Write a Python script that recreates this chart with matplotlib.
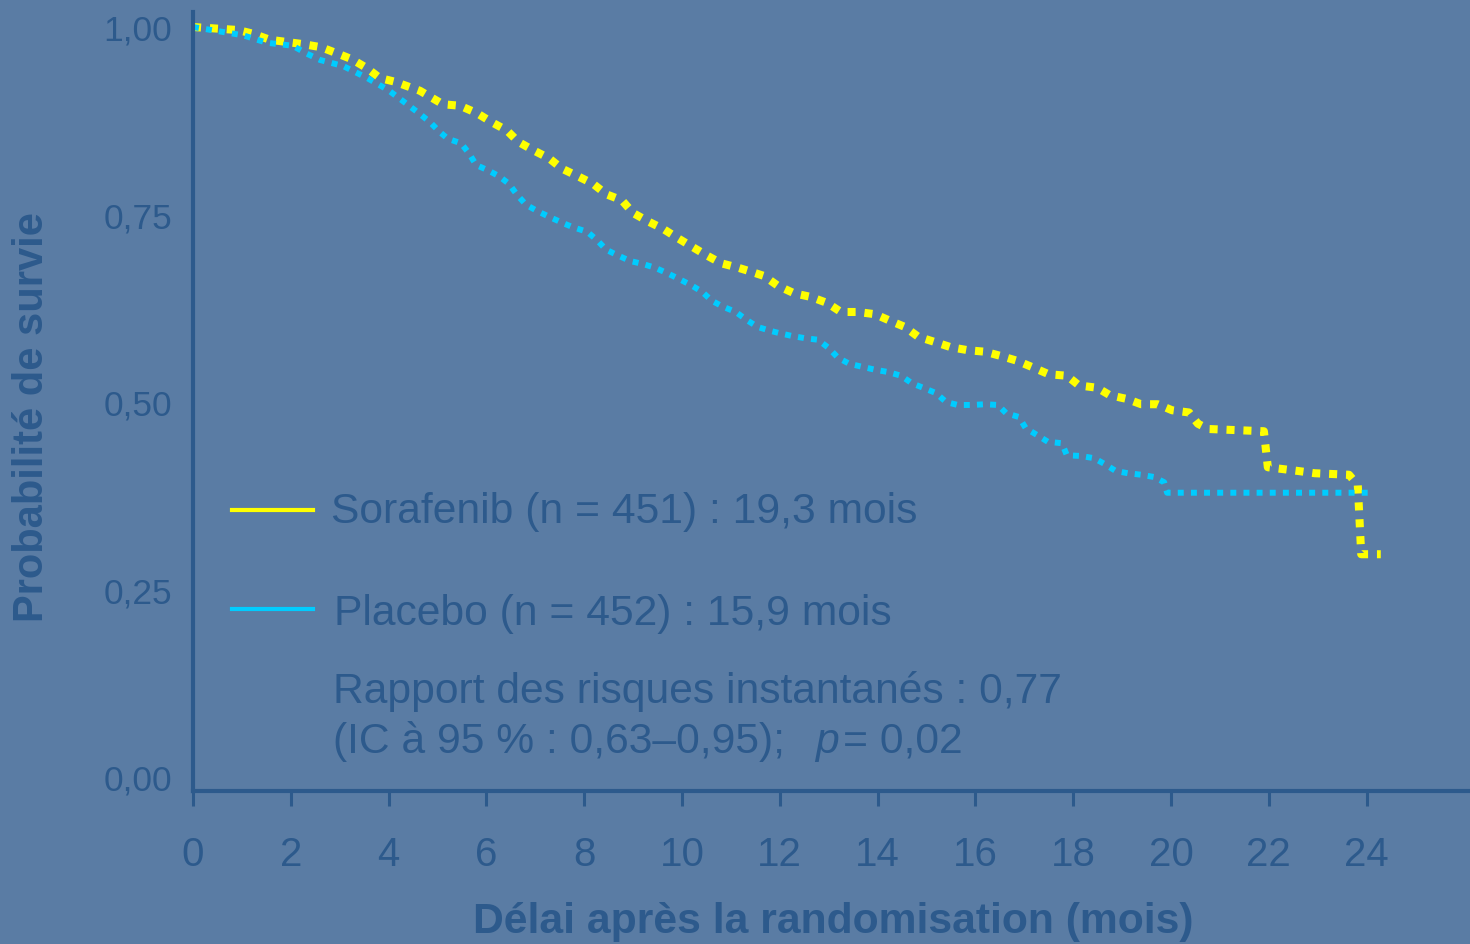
import matplotlib.pyplot as plt

plt.rcParams['font.family'] = ['Liberation Sans', 'DejaVu Sans']

# Kaplan-Meier curves (months, survival probability)
soraf_t = [0, 0.92, 1.23, 1.57, 2.27, 2.62, 2.94, 3.25, 3.56, 3.82, 4.13, 4.64,
           5.11, 5.46, 5.81, 6.11, 6.42, 6.65, 6.95, 7.28, 7.55, 7.87, 8.18, 8.45,
           8.77, 9.0, 9.3, 9.61, 9.9, 10.18, 10.49, 10.8, 11.15, 11.35, 11.68, 11.96,
           12.29, 12.64, 12.97, 13.25, 13.6, 13.95, 14.23, 14.56, 14.83, 15.17, 15.5,
           15.85, 16.2, 16.54, 16.85, 17.18, 17.5, 17.87, 18.12, 18.49, 18.75, 19.1,
           19.39, 19.73, 20.02, 20.37, 20.55, 20.76, 21.9, 21.98, 22.23, 22.6, 22.94,
           23.29, 23.64, 23.82, 23.89, 24.29]
soraf_s = [1.0, 0.996, 0.991, 0.983, 0.977, 0.973, 0.965, 0.957, 0.945, 0.932, 0.927,
           0.915, 0.897, 0.895, 0.885, 0.873, 0.862, 0.847, 0.836, 0.825, 0.811, 0.801,
           0.791, 0.777, 0.769, 0.752, 0.741, 0.731, 0.719, 0.708, 0.696, 0.685, 0.679,
           0.675, 0.668, 0.655, 0.645, 0.640, 0.632, 0.620, 0.620, 0.617, 0.609, 0.600,
           0.587, 0.580, 0.573, 0.569, 0.567, 0.561, 0.555, 0.546, 0.537, 0.535, 0.522,
           0.519, 0.509, 0.504, 0.497, 0.497, 0.489, 0.486, 0.471, 0.464, 0.461, 0.413,
           0.411, 0.408, 0.405, 0.404, 0.403, 0.389, 0.297, 0.297]

placebo_t = [0, 1.02, 1.51, 2.04, 2.31, 2.6, 3.07, 3.56, 3.99, 4.40, 4.64, 4.85, 5.03,
             5.21, 5.48, 5.64, 5.79, 6.03, 6.26, 6.46, 6.63, 6.81, 7.03, 7.28, 7.55,
             7.77, 8.06, 8.26, 8.45, 8.67, 8.94, 9.2, 9.45, 9.69, 9.94, 10.18, 10.41,
             10.61, 10.84, 11.1, 11.33, 11.55, 11.8, 11.98, 12.25, 12.52, 12.78, 13.0,
             13.19, 13.42, 13.68, 13.95, 14.21, 14.48, 14.7, 14.93, 15.19, 15.4, 15.64,
             15.93, 16.2, 16.46, 16.63, 16.89, 17.03, 17.26, 17.48, 17.77, 17.87, 18.16,
             18.43, 18.65, 18.87, 19.12, 19.39, 19.65, 19.86, 19.92, 24.07]
placebo_s = [1.0, 0.989, 0.979, 0.975, 0.965, 0.956, 0.948, 0.932, 0.916, 0.896, 0.884,
             0.873, 0.861, 0.851, 0.845, 0.832, 0.816, 0.809, 0.801, 0.791, 0.776, 0.763,
             0.755, 0.747, 0.739, 0.733, 0.727, 0.716, 0.703, 0.696, 0.688, 0.684, 0.679,
             0.672, 0.664, 0.656, 0.647, 0.635, 0.627, 0.620, 0.609, 0.600, 0.595, 0.592,
             0.588, 0.585, 0.583, 0.572, 0.559, 0.551, 0.547, 0.543, 0.540, 0.535, 0.525,
             0.519, 0.512, 0.500, 0.496, 0.496, 0.497, 0.496, 0.485, 0.480, 0.465, 0.456,
             0.447, 0.445, 0.429, 0.428, 0.425, 0.417, 0.408, 0.405, 0.403, 0.400, 0.393,
             0.379, 0.379]

x_ticks = [0, 2, 4, 6, 8, 10, 12, 14, 16, 18, 20, 22, 24]
y_ticks = [0, 0.25, 0.5, 0.75, 1.0]
y_labels = ['0,00', '0,25', '0,50', '0,75', '1,00']

legend_labels = ['Sorafenib (n = 451) : 19,3 mois', 'Placebo (n = 452) : 15,9 mois']
stats_line1 = 'Rapport des risques instantanés : 0,77'
stats_line2 = '(IC à 95 % : 0,63–0,95);'

bg = '#5a7ca4'
dark = '#2d5a8c'
yellow = '#ffff00'
cyan = '#00ccff'
fs = 30.7

W, H = 1470, 945
fig = plt.figure(figsize=(W / 100, H / 100), dpi=100, facecolor=bg)
ax = fig.add_axes([193 / W, 1 - 792 / H, 1 - 193 / W, (792 - 13) / H])
ax.set_facecolor(bg)

ax.plot(soraf_t, soraf_s, color=yellow, lw=5.8, dashes=(1, 1.1),
        dash_capstyle='butt', solid_joinstyle='miter')
ax.plot(placebo_t, placebo_s, color=cyan, lw=4.3, dashes=(1, 1.2),
        dash_capstyle='butt')

ax.set_xlim(0, (W - 193) / 48.9)
ax.set_ylim(-0.0187, 1.02)

for s in ['top', 'right']:
    ax.spines[s].set_visible(False)
for s in ['left', 'bottom']:
    ax.spines[s].set_color(dark)
    ax.spines[s].set_linewidth(3)

ax.set_xticks(x_ticks)
ax.set_xticklabels([str(v) for v in x_ticks])
ax.set_yticks(y_ticks)
ax.set_yticklabels(y_labels)
ax.tick_params(axis='x', direction='out', length=11, width=2.2, color=dark,
               labelcolor=dark, labelsize=29, pad=21)
ax.tick_params(axis='y', length=0, labelcolor=dark, labelsize=25.5, pad=15)

# axis titles
fig.text(32 / W, 1 - 417 / H, 'Probabilité de survie', rotation=90, ha='center',
         va='center', fontsize=30, fontweight='bold', color=dark)
fig.text(833 / W, 1 - 933 / H, 'Délai après la randomisation (mois)', ha='center',
         va='baseline', fontsize=fs, fontweight='bold', color=dark)

# legend-like annotations
fig.add_artist(plt.Line2D([232 / W, 313 / W], [1 - 511 / H, 1 - 511 / H],
                          color=yellow, lw=3))
fig.add_artist(plt.Line2D([232 / W, 313 / W], [1 - 610 / H, 1 - 610 / H],
                          color=cyan, lw=3))
fig.text(331 / W, 1 - 523 / H, legend_labels[0], ha='left', va='baseline',
         fontsize=fs, color=dark)
fig.text(334 / W, 1 - 625 / H, legend_labels[1], ha='left', va='baseline',
         fontsize=fs, color=dark)
fig.text(333 / W, 1 - 703 / H, stats_line1, ha='left', va='baseline',
         fontsize=fs, color=dark)
fig.text(333 / W, 1 - 753 / H, stats_line2, ha='left', va='baseline',
         fontsize=fs, color=dark)
fig.text(815 / W, 1 - 753 / H, 'p', ha='left', va='baseline', fontsize=fs,
         style='italic', color=dark)
fig.text(843 / W, 1 - 753 / H, '= 0,02', ha='left', va='baseline', fontsize=fs,
         color=dark)

fig.savefig('out.png', dpi=100, facecolor=bg)
